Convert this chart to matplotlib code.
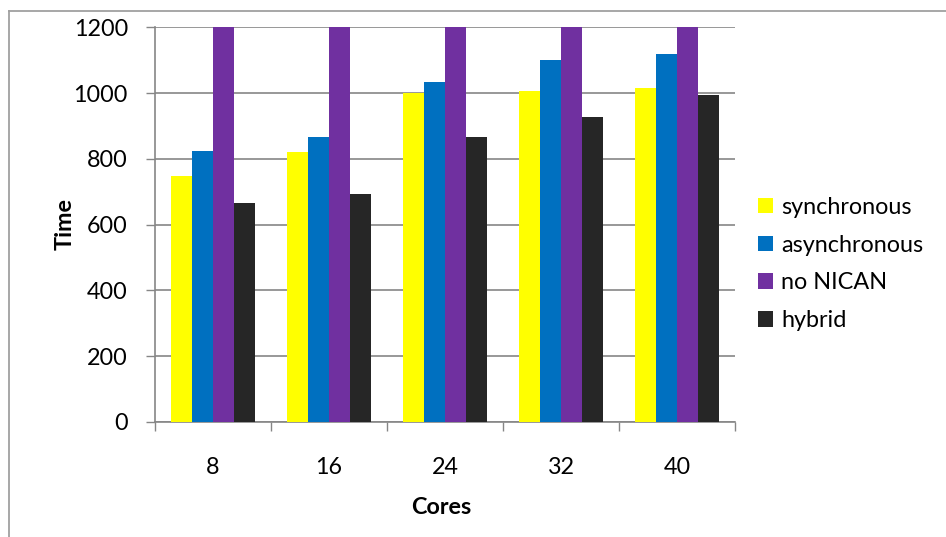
import matplotlib
matplotlib.use("Agg")
import matplotlib.pyplot as plt
from matplotlib.patches import Patch
from matplotlib.lines import Line2D
import numpy as np

plt.rcParams['font.family'] = ['Lato', 'DejaVu Sans']

categories = ['8', '16', '24', '32', '40']
series_names = ['synchronous', 'asynchronous', 'no NICAN', 'hybrid']
synchronous = [748, 821, 1000, 1006, 1015]
asynchronous = [825, 866, 1033, 1100, 1118]
no_nican = [1500, 1500, 1500, 1500, 1500]  # exceeds axis maximum (clipped at 1200)
hybrid = [666, 694, 866, 928, 995]
yticks = [0, 200, 400, 600, 800, 1000, 1200]
colors = ['#FFFF00', '#0070C0', '#7030A0', '#262626']

FS = 16.8
W, H = 946, 537
fig = plt.figure(figsize=(W / 100, H / 100), dpi=100)
ax = fig.add_axes([155 / W, 1 - 422 / H, (735 - 155) / W, (422 - 27.3) / H])

data = [synchronous, asynchronous, no_nican, hybrid]
n = len(categories)
centers = np.arange(n) + 0.5
bw = 0.1813
for k, (vals, col) in enumerate(zip(data, colors)):
    ax.bar(centers + (k - 1.5) * bw, vals, width=bw, color=col,
           edgecolor='none', zorder=3, label=series_names[k])

ax.set_xlim(0, n)
ax.set_ylim(0, 1200)
ax.set_yticks(yticks)
ax.set_yticklabels([str(v) for v in yticks])
ax.yaxis.grid(True, color='#868686', linewidth=1.2, zorder=0)
ax.set_axisbelow(True)

ax.set_xticks(np.arange(n + 1))
ax.set_xticklabels([''] * (n + 1))
ax.set_xticks(centers, minor=True)
ax.set_xticklabels(categories, minor=True)
ax.tick_params(axis='x', which='minor', length=0, pad=25, labelsize=FS)
ax.tick_params(axis='x', which='major', length=6.5, width=1, color='#868686')
ax.tick_params(axis='y', length=6.5, width=1, color='#868686', pad=13, labelsize=FS)

for s in ['top', 'right']:
    ax.spines[s].set_visible(False)
for s in ['left', 'bottom']:
    ax.spines[s].set_color('#868686')
    ax.spines[s].set_linewidth(1.2)

fig.text(441 / W, 1 - 507 / H, 'Cores', ha='center', va='center',
         fontsize=FS, fontweight='bold')
fig.text(65 / W, 1 - 224.5 / H, 'Time', ha='center', va='center',
         rotation=90, fontsize=FS, fontweight='bold')

handles = [Patch(facecolor=c, edgecolor='none') for c in colors]
fig.legend(handles, series_names, loc='center left',
           bbox_to_anchor=(758 / W, 1 - 264 / H), frameon=False,
           fontsize=FS, handlelength=0.65, handleheight=0.65,
           handletextpad=0.35, labelspacing=0.72, borderpad=0, borderaxespad=0)

# outer chart border
fig.add_artist(Line2D([8.5 / W, 8.5 / W], [0, 1 - 10.5 / H],
                      transform=fig.transFigure, color='#A0A0A0', linewidth=1.3))
fig.add_artist(Line2D([8.5 / W, 1], [1 - 10.5 / H, 1 - 10.5 / H],
                      transform=fig.transFigure, color='#A0A0A0', linewidth=1.3))

fig.savefig('out.png', dpi=100)
